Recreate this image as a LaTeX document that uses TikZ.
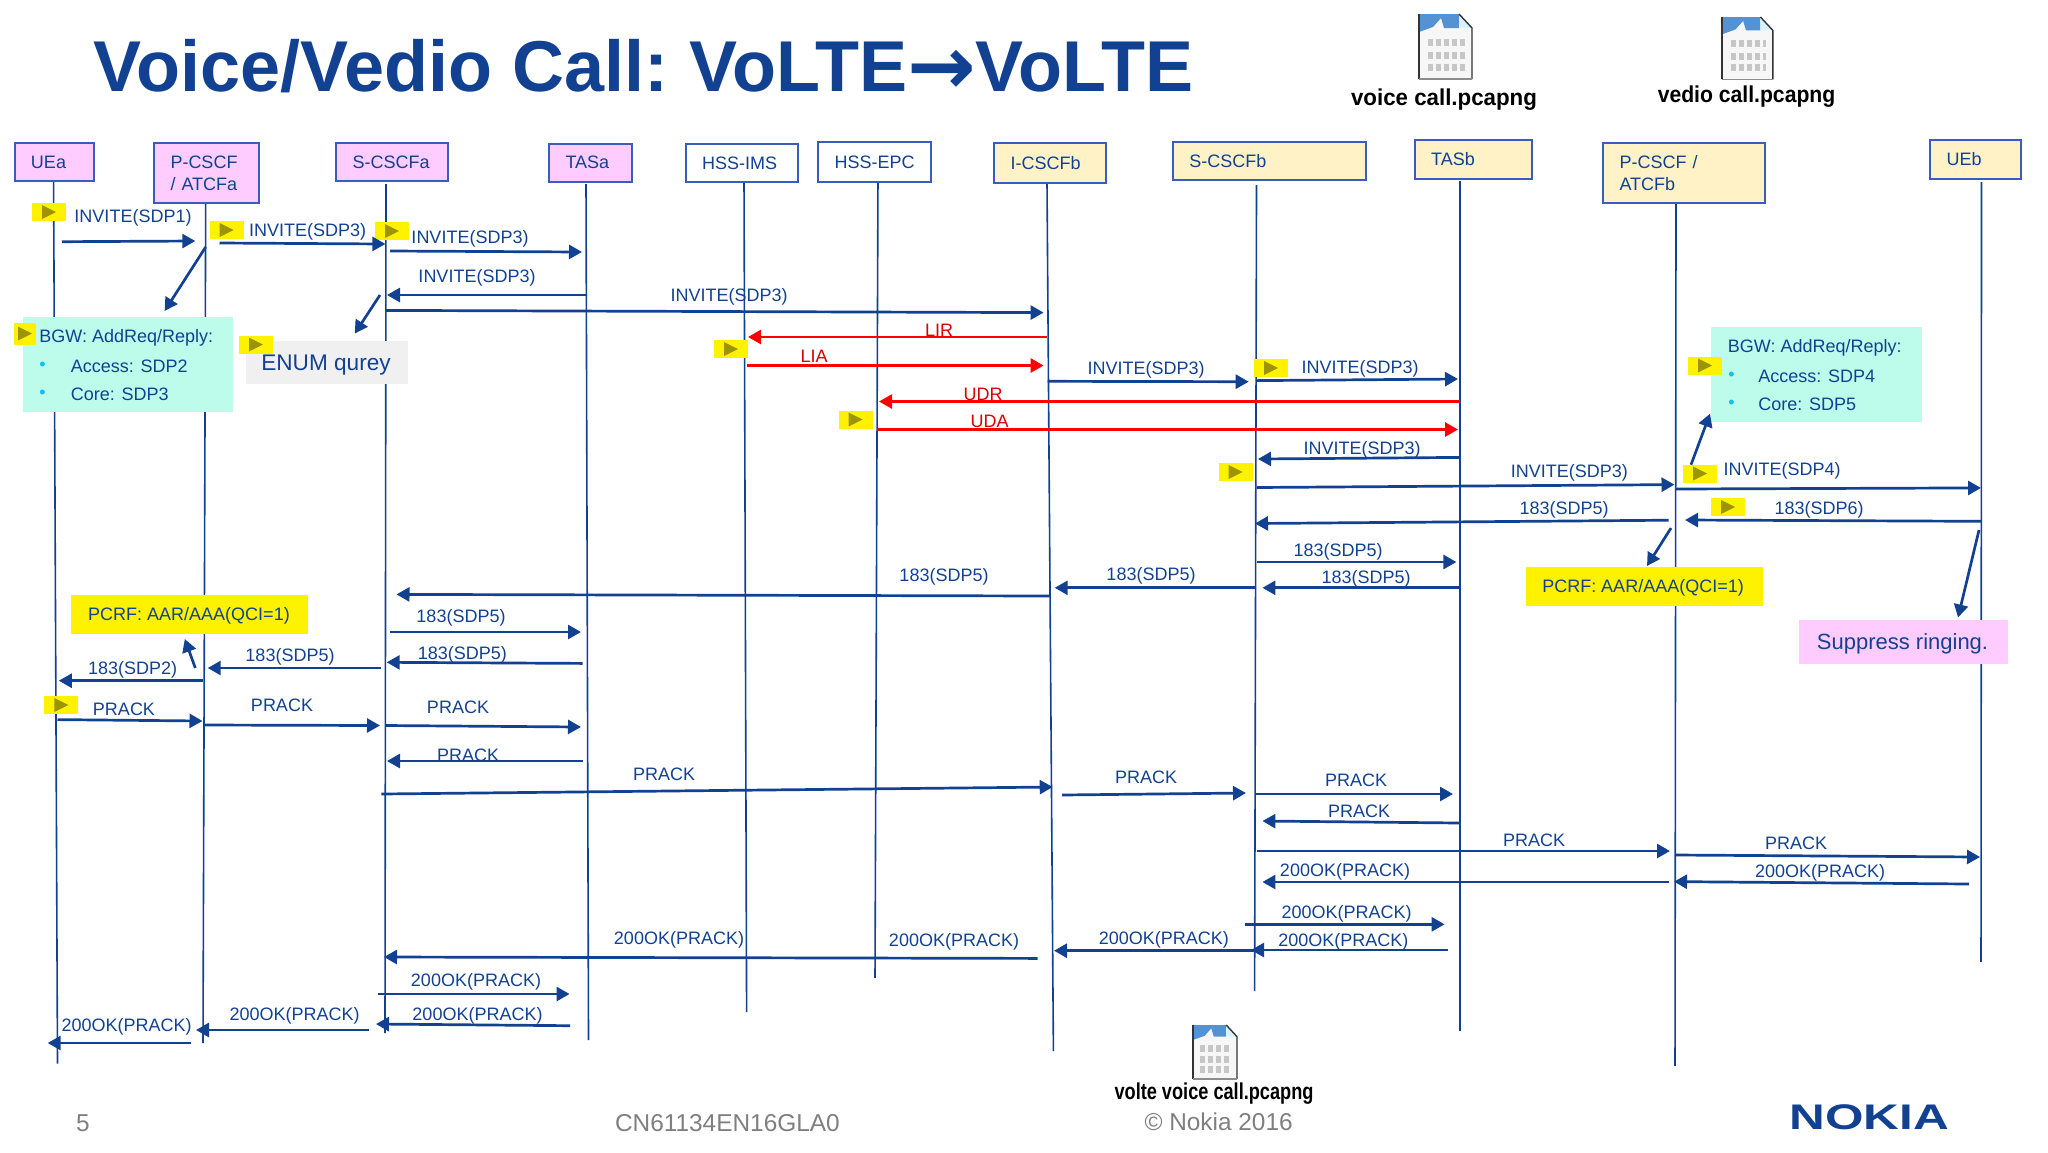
\documentclass[tikz,border=0pt]{standalone}
\usepackage{fontspec}
\usepackage{graphicx}
\usepackage{xcolor}
\usetikzlibrary{arrows.meta}
\setmainfont{Liberation Sans}
\newfontfamily\arrowfont{DejaVu Sans}
\definecolor{nokia}{HTML}{124191}
\definecolor{edge}{HTML}{3A5CC0}
\definecolor{pinkbox}{HTML}{FFCCFF}
\definecolor{sandbox}{HTML}{FFF2C6}
\definecolor{tealbox}{HTML}{BDFBEA}
\definecolor{greybox}{HTML}{F0F0F0}
\definecolor{footgrey}{HTML}{7F7F7F}
\definecolor{tipolive}{HTML}{9C9400}
\definecolor{bullet}{HTML}{12C0F0}
\tikzset{
	entity/.style={draw=edge, line width=1pt, text=nokia, align=left, inner xsep=8.25pt, inner ysep=0pt, font=\fontsize{9}{11}\selectfont},
	life/.style={nokia, line width=0.8pt},
	sig/.style={nokia, line width=1.35pt, -{Triangle[length=6.5pt,width=7pt]}},
	sigred/.style={red, line width=1.35pt, -{Triangle[length=6.5pt,width=7pt]}},
	lab/.style={text=nokia, inner sep=1pt, yshift=-0.4pt, font=\fontsize{9}{11}\selectfont},
	labred/.style={lab, text=red!85!black},
	patch/.style={inner sep=0pt, text=nokia, yshift=-0.4pt},
	marker/.style={fill=yellow, inner sep=0pt, minimum width=17pt, minimum height=9pt, path picture={
		\fill[tipolive] ([xshift=-3.5pt,yshift=3.5pt]path picture bounding box.center) -- ++(7pt,-3.5pt) -- ++(-7pt,-3.5pt) -- cycle;}},
	capture/.style={inner sep=0pt, text=black, font=\bfseries\fontsize{11.5}{13}\selectfont},
	foot/.style={inner sep=0pt, text=footgrey, font=\fontsize{12.2}{14}\selectfont},
	docicon/.pic={
		\fill[black!3] (0,0) -- (40,0) -- (53,14) -- (53,65) -- (0,65) -- cycle;
		\fill[cyan!55!blue!70] (0,0) -- (40,0) -- (40,14) -- (25,14) -- (22,4) -- (14,13) -- (0,18) -- cycle;
		\fill[cyan!15] (40,0) -- (40,14) -- (53,14) -- cycle;
		\draw[black!80, line width=0.7pt] (40,0) -- (53,14) -- (53,65);
		\draw[black!80, line width=0.7pt] (0,0) -- (0,65);
		\draw[black!45, line width=0.6pt] (0,65) -- (53,65);
		\draw[black!22, line width=3.5pt, dash pattern=on 2.5pt off 1.5pt] (9,28) -- (46,28);
		\draw[black!22, line width=3.5pt, dash pattern=on 2.5pt off 1.5pt] (9,41) -- (46,41);
		\draw[black!22, line width=3.5pt, dash pattern=on 2.5pt off 1.5pt] (9,53) -- (46,53);
	},
}

\begin{document}
\begin{tikzpicture}[x=0.5pt, y=-0.5pt]
	\useasboundingbox (0,0) rectangle (2048,1152);

	% lifelines
	\coordinate (ueaT) at (53.6,181); \coordinate (ueaB) at (57.5,1063.5);
	\coordinate (pcaT) at (205.7,203); \coordinate (pcaB) at (203,1043);
	\coordinate (scaT) at (386,184); \coordinate (scaB) at (385,1033);
	\coordinate (taaT) at (586,184); \coordinate (taaB) at (588.5,1040);
	\coordinate (imsT) at (744,180); \coordinate (imsB) at (746.6,1012);
	\coordinate (epcT) at (878,172); \coordinate (epcB) at (875,978);
	\coordinate (icbT) at (1047,184); \coordinate (icbB) at (1053.4,1051);
	\coordinate (scbT) at (1256.5,185); \coordinate (scbB) at (1254.6,991);
	\coordinate (tabT) at (1459.7,181); \coordinate (tabB) at (1459.7,1031);
	\coordinate (pcbT) at (1676,203); \coordinate (pcbB) at (1675,1066);
	\coordinate (uebT) at (1981.5,182); \coordinate (uebB) at (1981,962);
	\draw[life] (ueaT) -- (ueaB);
	\draw[life] (pcaT) -- (pcaB);
	\draw[life] (scaT) -- (scaB);
	\draw[life] (taaT) -- (taaB);
	\draw[life] (imsT) -- (imsB);
	\draw[life] (epcT) -- (epcB);
	\draw[life] (icbT) -- (icbB);
	\draw[life] (scbT) -- (scbB);
	\draw[life] (tabT) -- (tabB);
	\draw[life] (pcbT) -- (pcbB);
	\draw[life] (uebT) -- (uebB);

	% title and entities
	\node[anchor=base west, inner sep=0pt, text=nokia, font=\bfseries\fontsize{36}{40}\selectfont] (title) at (93,91) {Voice/Vedio Call:\hspace{-2.6pt} VoLTE\raisebox{-1.8pt}{\fontsize{41}{44}\selectfont\arrowfont→}VoLTE};
	\node[entity, fill=pinkbox, text width=23pt, minimum height=19pt] (uea) at (54,162) {UEa};
	\node[entity, fill=pinkbox, text width=36pt, minimum height=30pt] (pcscfa) at (206.5,173) {P-CSCF\\/ ATCFa};
	\node[entity, fill=pinkbox, text width=39.5pt, minimum height=19pt] (scscfa) at (392,162) {S-CSCFa};
	\node[entity, fill=pinkbox, text width=25pt, minimum height=19pt] (tasa) at (590.5,162.5) {TASa};
	\node[entity, fill=white, text width=39.5pt, minimum height=19pt] (hssims) at (741.7,163) {\mbox{HSS-IMS}};
	\node[entity, fill=white, text width=40pt, minimum height=20pt] (hssepc) at (874.5,162) {\mbox{HSS-EPC}};
	\node[entity, fill=sandbox, text width=39.5pt, minimum height=20pt] (icscfb) at (1050,163) {I-CSCFb};
	\node[entity, fill=sandbox, text width=80pt, minimum height=19pt] (scscfb) at (1269.3,161) {S-CSCFb};
	\node[entity, fill=sandbox, text width=42pt, minimum height=19.5pt] (tasb) at (1473.2,159.5) {TASb};
	\node[entity, fill=sandbox, text width=64.5pt, minimum height=30pt] (pcscfb) at (1684,172.8) {P-CSCF /\\ATCFb};
	\node[entity, fill=sandbox, text width=29pt, minimum height=19.5pt] (ueb) at (1975.5,159.5) {UEb};

	% panels over the lifelines
	\node[fill=tealbox, minimum width=104.75pt, minimum height=47.3pt, inner sep=0pt] (bgwa) at (127.75,364.7) {};
	\node[fill=tealbox, minimum width=105.25pt, minimum height=47.5pt, inner sep=0pt] (bgwb) at (1816.25,374.5) {};
	\node[fill=greybox, minimum width=81.2pt, minimum height=21.75pt, inner sep=0pt] (enum) at (326.8,362.25) {};
	\node[fill=yellow, minimum width=118.75pt, minimum height=19.5pt, inner sep=0pt] (pcrfa) at (189.25,614.5) {};
	\node[fill=yellow, minimum width=118.7pt, minimum height=19.5pt, inner sep=0pt] (pcrfb) at (1644.3,586) {};
	\node[fill=pinkbox, minimum width=104.5pt, minimum height=22pt, inner sep=0pt] (ringbox) at (1903.5,642) {};
	\node[patch, anchor=west, font=\fontsize{9}{11}\selectfont] (bgwat) at (39,337) {BGW: AddReq/Reply:};
	\node[patch, text=bullet, font=\fontsize{9}{11}\selectfont] (bgwad1) at (42.5,365) {•};
	\node[patch, anchor=west, font=\fontsize{9}{11}\selectfont] (bgwa1) at (70.5,365) {Access: SDP2};
	\node[patch, text=bullet, font=\fontsize{9}{11}\selectfont] (bgwad2) at (42.5,393) {•};
	\node[patch, anchor=west, font=\fontsize{9}{11}\selectfont] (bgwa2) at (70.5,393) {Core: SDP3};
	\node[patch, anchor=west, font=\fontsize{9}{11}\selectfont] (bgwbt) at (1727.5,347) {BGW: AddReq/Reply:};
	\node[patch, text=bullet, font=\fontsize{9}{11}\selectfont] (bgwbd1) at (1731.4,375) {•};
	\node[patch, anchor=west, font=\fontsize{9}{11}\selectfont] (bgwb1) at (1758,375) {Access: SDP4};
	\node[patch, text=bullet, font=\fontsize{9}{11}\selectfont] (bgwbd2) at (1731.4,403) {•};
	\node[patch, anchor=west, font=\fontsize{9}{11}\selectfont] (bgwb2) at (1758,403) {Core: SDP5};
	\node[patch, font=\fontsize{11.3}{13}\selectfont] (enumt) at (326,364) {ENUM qurey};
	\node[patch, font=\fontsize{9}{11}\selectfont] (pcrfat) at (189,615.5) {PCRF: AAR/AAA(QCI=1)};
	\node[patch, font=\fontsize{9}{11}\selectfont] (pcrfbt) at (1643,587) {PCRF: AAR/AAA(QCI=1)};
	\node[patch, font=\fontsize{11}{13}\selectfont] (ringt) at (1902.5,643) {Suppress ringing.};

	% yellow markers
	\node[marker] (mk1) at (49,212) {};
	\node[marker] (mk2) at (226.6,230) {};
	\node[marker] (mk3) at (392,231) {};
	\node[marker, minimum width=11pt, minimum height=11pt] (mk4) at (25,333.5) {};
	\node[marker] (mk5) at (256,344.6) {};
	\node[marker] (mk6) at (731,349) {};
	\node[marker] (mk7) at (855.6,419.5) {};
	\node[marker] (mk8) at (1271,368) {};
	\node[marker] (mk9) at (1705,365.5) {};
	\node[marker] (mk10) at (1235.6,472) {};
	\node[marker] (mk11) at (1700,473.5) {};
	\node[marker] (mk12) at (1728,507) {};
	\node[marker] (mk13) at (61.4,705) {};

	% INVITE leg
	\coordinate (s1) at (62,241.7); \coordinate (e1) at (195.3,241);
	\coordinate (s2) at (219.5,243); \coordinate (e2) at (385.4,244);
	\coordinate (s3) at (390,251); \coordinate (e3) at (582,252);
	\coordinate (s4) at (586,295); \coordinate (e4) at (387,295);
	\coordinate (s5) at (385,310.4); \coordinate (e5) at (1043.6,312.6);
	\coordinate (s6) at (205.7,247); \coordinate (e6) at (164.6,311);
	\coordinate (s7) at (380,295); \coordinate (e7) at (354.7,333.6);
	\coordinate (s8) at (1047,337); \coordinate (e8) at (748,337);
	\coordinate (s9) at (747,365.5); \coordinate (e9) at (1043.6,365.5);
	\coordinate (s10) at (1459.7,401.5); \coordinate (e10) at (879,401.5);
	\coordinate (s11) at (877,429.5); \coordinate (e11) at (1458,429.5);
	\coordinate (s12) at (1047.5,381.3); \coordinate (e12) at (1248.7,381.7);
	\coordinate (s13) at (1256.5,380.6); \coordinate (e13) at (1458,379);
	\coordinate (s14) at (1459.7,457.4); \coordinate (e14) at (1258,459);
	\coordinate (s15) at (1256.5,487.5); \coordinate (e15) at (1674.5,484.6);
	\coordinate (s16) at (1676,489); \coordinate (e16) at (1981,487.9);
	\coordinate (s19) at (1691,464.7); \coordinate (e19) at (1710,413.7);
	\draw[sig] (s1) -- (e1);
	\draw[sig] (s2) -- (e2);
	\draw[sig] (s3) -- (e3);
	\draw[sig] (s4) -- (e4);
	\draw[sig] (s5) -- (e5);
	\draw[sig] (s6) -- (e6);
	\draw[sig] (s7) -- (e7);
	\draw[sigred] (s8) -- (e8);
	\draw[sigred] (s9) -- (e9);
	\draw[sigred] (s10) -- (e10);
	\draw[sigred] (s11) -- (e11);
	\draw[sig] (s12) -- (e12);
	\draw[sig] (s13) -- (e13);
	\draw[sig] (s14) -- (e14);
	\draw[sig] (s15) -- (e15);
	\draw[sig] (s16) -- (e16);
	\draw[sig] (s19) -- (e19);
	\node[lab] (l1) at (133,217) {INVITE(SDP1)};
	\node[lab] (l2) at (307.6,231.5) {INVITE(SDP3)};
	\node[lab] (l3) at (470,238) {INVITE(SDP3)};
	\node[lab] (l4) at (477,276.6) {INVITE(SDP3)};
	\node[lab] (l5) at (729,295.7) {INVITE(SDP3)};
	\node[labred] (l8) at (939,329) {LIR};
	\node[labred] (l9) at (814,355) {LIA};
	\node[labred] (l10) at (983,394) {UDR};
	\node[labred] (l11) at (989.5,420.6) {UDA};
	\node[lab] (l12) at (1146,369) {INVITE(SDP3)};
	\node[lab] (l13) at (1360,368) {INVITE(SDP3)};
	\node[lab] (l14) at (1362,449) {INVITE(SDP3)};
	\node[lab] (l15) at (1569.4,471.7) {INVITE(SDP3)};
	\node[lab] (l16) at (1782,470) {INVITE(SDP4)};

	% 183 leg
	\coordinate (s17) at (1668.7,520.2); \coordinate (e17) at (1255,523.5);
	\coordinate (s18) at (1981,521.3); \coordinate (e18) at (1685,520);
	\coordinate (s20) at (1671,528); \coordinate (e20) at (1647,566);
	\coordinate (s21) at (1979,530); \coordinate (e21) at (1958,617.5);
	\coordinate (s22) at (1257,562); \coordinate (e22) at (1456.4,562);
	\coordinate (s23) at (1459.7,587.8); \coordinate (e23) at (1262.4,587.8);
	\coordinate (s24) at (1254.6,587.8); \coordinate (e24) at (1054.7,587.8);
	\coordinate (s25) at (1050,596); \coordinate (e25) at (396.5,594.4);
	\coordinate (s27) at (390,632); \coordinate (e27) at (581,632);
	\coordinate (s28) at (582.6,663.4); \coordinate (e28) at (386.7,662.3);
	\coordinate (s29) at (381,668); \coordinate (e29) at (207.7,668);
	\coordinate (s30) at (203,680.7); \coordinate (e30) at (58.8,680.7);
	\coordinate (s31) at (195.3,668); \coordinate (e31) at (184.8,639);
	\draw[sig] (s17) -- (e17);
	\draw[sig] (s18) -- (e18);
	\draw[sig] (s20) -- (e20);
	\draw[sig] (s21) -- (e21);
	\draw[sig] (s22) -- (e22);
	\draw[sig] (s23) -- (e23);
	\draw[sig] (s24) -- (e24);
	\draw[sig] (s25) -- (e25);
	\draw[sig] (s27) -- (e27);
	\draw[sig] (s28) -- (e28);
	\draw[sig] (s29) -- (e29);
	\draw[sig] (s30) -- (e30);
	\draw[sig] (s31) -- (e31);
	\node[lab] (l17) at (1564,509) {183(SDP5)};
	\node[lab] (l18) at (1819,509) {183(SDP6)};
	\node[lab] (l22) at (1338,551) {183(SDP5)};
	\node[lab] (l23) at (1366,578) {183(SDP5)};
	\node[lab] (l24) at (1151,575) {183(SDP5)};
	\node[lab] (l25) at (944,576) {183(SDP5)};
	\node[lab] (l27) at (461,617.5) {183(SDP5)};
	\node[lab] (l28) at (462.4,654) {183(SDP5)};
	\node[lab] (l29) at (290,656.5) {183(SDP5)};
	\node[lab] (l30) at (132.6,668.6) {183(SDP2)};

	% PRACK leg
	\coordinate (s32) at (57.5,719.6); \coordinate (e32) at (202.5,721);
	\coordinate (s33) at (204.4,725); \coordinate (e33) at (380,725.5);
	\coordinate (s34) at (386,725.5); \coordinate (e34) at (581,727);
	\coordinate (s35) at (583,761); \coordinate (e35) at (387,761);
	\coordinate (s36) at (381.4,794); \coordinate (e36) at (1052.7,787);
	\coordinate (s37) at (1062,795); \coordinate (e37) at (1246,793);
	\coordinate (s38) at (1255,794); \coordinate (e38) at (1453,794);
	\coordinate (s39) at (1459.7,823); \coordinate (e39) at (1262.4,821);
	\coordinate (s40) at (1257,851); \coordinate (e40) at (1670,851);
	\coordinate (s41) at (1676,855); \coordinate (e41) at (1980,857);
	\draw[sig] (s32) -- (e32);
	\draw[sig] (s33) -- (e33);
	\draw[sig] (s34) -- (e34);
	\draw[sig] (s35) -- (e35);
	\draw[sig] (s36) -- (e36);
	\draw[sig] (s37) -- (e37);
	\draw[sig] (s38) -- (e38);
	\draw[sig] (s39) -- (e39);
	\draw[sig] (s40) -- (e40);
	\draw[sig] (s41) -- (e41);
	\node[lab] (l32) at (124,708) {PRACK};
	\node[lab] (l33) at (282,704.6) {PRACK};
	\node[lab] (l34) at (458,706.4) {PRACK};
	\node[lab] (l35) at (468,754) {PRACK};
	\node[lab] (l36) at (664,773) {PRACK};
	\node[lab] (l37) at (1146,776.6) {PRACK};
	\node[lab] (l38) at (1356,779) {PRACK};
	\node[lab] (l39) at (1359,810) {PRACK};
	\node[lab] (l40) at (1534,839) {PRACK};
	\node[lab] (l41) at (1796,842) {PRACK};

	% 200OK leg
	\coordinate (s42) at (1668.7,882); \coordinate (e42) at (1262.4,882);
	\coordinate (s43) at (1969,884); \coordinate (e43) at (1674,881.6);
	\coordinate (s44) at (1245.4,924.3); \coordinate (e44) at (1444.6,924.3);
	\coordinate (s45) at (1448,950); \coordinate (e45) at (1251,950);
	\coordinate (s46) at (1254.6,950.7); \coordinate (e46) at (1054,950.7);
	\coordinate (s47) at (1037.7,958.4); \coordinate (e47) at (384,957);
	\coordinate (s48) at (378,994); \coordinate (e48) at (569.6,994);
	\coordinate (s49) at (570,1025.7); \coordinate (e49) at (376,1024);
	\coordinate (s50) at (369,1030); \coordinate (e50) at (196,1030);
	\coordinate (s51) at (190.7,1043); \coordinate (e51) at (47.7,1043);
	\draw[sig] (s42) -- (e42);
	\draw[sig] (s43) -- (e43);
	\draw[sig] (s44) -- (e44);
	\draw[sig] (s45) -- (e45);
	\draw[sig] (s46) -- (e46);
	\draw[sig] (s47) -- (e47);
	\draw[sig] (s48) -- (e48);
	\draw[sig] (s49) -- (e49);
	\draw[sig] (s50) -- (e50);
	\draw[sig] (s51) -- (e51);
	\node[lab] (l42) at (1345,871.4) {200OK(PRACK)};
	\node[lab] (l43) at (1820,872.5) {200OK(PRACK)};
	\node[lab] (l44) at (1346.7,913) {200OK(PRACK)};
	\node[lab] (l45) at (1343.4,941) {200OK(PRACK)};
	\node[lab] (l46) at (1163.8,939.3) {200OK(PRACK)};
	\node[lab] (l47) at (679,939.3) {200OK(PRACK)};
	\node[lab] (l47b) at (954,941) {200OK(PRACK)};
	\node[lab] (l48) at (476,981) {200OK(PRACK)};
	\node[lab] (l49) at (477.5,1015) {200OK(PRACK)};
	\node[lab] (l50) at (294.6,1015) {200OK(PRACK)};
	\node[lab] (l51) at (126.7,1026) {200OK(PRACK)};

	% attachments and footer
	\pic at (1419,14) {docicon};
	\pic[scale=0.96] at (1722,17) {docicon};
	\pic[scale=0.83] at (1193,1025) {docicon};
	\node[capture] (capv) at (1444,100) {\scalebox{0.97}[1]{voice call.pcapng}};
	\node[capture] (capw) at (1746.5,97) {\scalebox{0.92}[1]{vedio call.pcapng}};
	\node[capture] (capb) at (1214,1094) {\scalebox{0.79}[1]{volte voice call.pcapng}};
	\node[foot] (pageno) at (83,1123) {5};
	\node[foot] (course) at (727.4,1123.4) {CN61134EN16GLA0};
	\node[foot] (copyr) at (1218.6,1122) {© Nokia 2016};
	\node[inner sep=0pt, text=nokia, font=\bfseries\fontsize{17.8}{20}\selectfont] (logo) at (1869,1117) {\scalebox{1.39}[1]{NOKIA}};
\end{tikzpicture}
\end{document}
